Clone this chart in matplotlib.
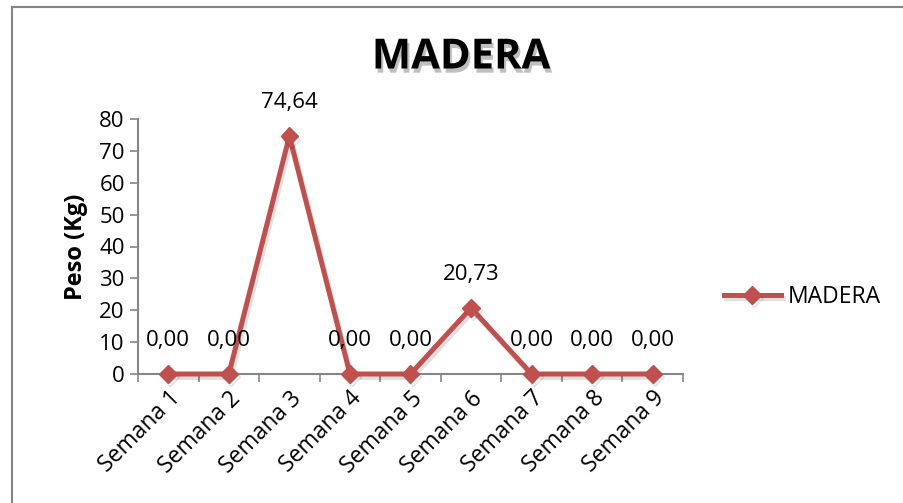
import matplotlib.pyplot as plt
import matplotlib.patheffects as pe
from matplotlib.lines import Line2D

semanas = ["Semana 1", "Semana 2", "Semana 3", "Semana 4", "Semana 5",
           "Semana 6", "Semana 7", "Semana 8", "Semana 9"]
peso = [0.00, 0.00, 74.64, 0.00, 0.00, 20.73, 0.00, 0.00, 0.00]
y_ticks = [0, 10, 20, 30, 40, 50, 60, 70, 80]

plt.rcParams['font.family'] = ['Open Sans', 'DejaVu Sans']
red = '#C0504D'
gray = '#868686'
fs = 16

fig = plt.figure(figsize=(9.04, 5.03), dpi=100)
ax = fig.add_axes([138 / 904, 1 - 374 / 503, (683 - 138) / 904, (374 - 119) / 503])

x = list(range(len(semanas)))
ax.plot(x, peso, color=red, lw=3.6, marker='D', ms=9, label='MADERA',
        path_effects=[pe.SimpleLineShadow(offset=(1.5, -2.5), alpha=0.12), pe.Normal()],
        clip_on=False, zorder=3)

# data labels
for xi, v in zip(x, peso):
    ax.annotate(f"{v:.2f}".replace('.', ','), (xi, v), xytext=(0, 24),
                textcoords='offset points', ha='center', va='center', fontsize=fs)

ax.set_xlim(-0.5, len(semanas) - 0.5)
ax.set_ylim(0, 80)
ax.set_yticks(y_ticks)
ax.tick_params(axis='y', labelsize=fs, length=6, color=gray, width=1.2)

# tick marks between categories, labels at categories
ax.set_xticks([i - 0.5 for i in range(len(semanas) + 1)])
ax.set_xticklabels([])
ax.set_xticks(x, minor=True)
ax.set_xticklabels(semanas, minor=True, rotation=45, ha='right',
                   rotation_mode='anchor', fontsize=16.5)
ax.tick_params(axis='x', which='major', length=6, color=gray, width=1.2)
ax.tick_params(axis='x', which='minor', length=0, pad=9)

for s in ['top', 'right']:
    ax.spines[s].set_visible(False)
for s in ['left', 'bottom']:
    ax.spines[s].set_color(gray)
    ax.spines[s].set_linewidth(1.5)

ax.set_ylabel('Peso (Kg)', fontsize=17, fontweight='bold', labelpad=8)

fig.text(461 / 904, 1 - 58 / 503, 'MADERA', ha='center', va='center',
         fontsize=30, fontweight='bold',
         path_effects=[pe.withSimplePatchShadow(offset=(1.5, -3), alpha=0.25)])

ax.legend(loc='center left', bbox_to_anchor=(703 / 904, 1 - 297 / 503),
          bbox_transform=fig.transFigure, frameon=False, fontsize=16.5,
          handlelength=2.5, handletextpad=0.3)

# outer chart frame
fig.add_artist(Line2D([12 / 904, 1], [1 - 7 / 503, 1 - 7 / 503], color=gray, lw=1.5))
fig.add_artist(Line2D([12 / 904, 12 / 904], [0, 1 - 7 / 503], color=gray, lw=1.5))

fig.savefig('out.png', dpi=100)
